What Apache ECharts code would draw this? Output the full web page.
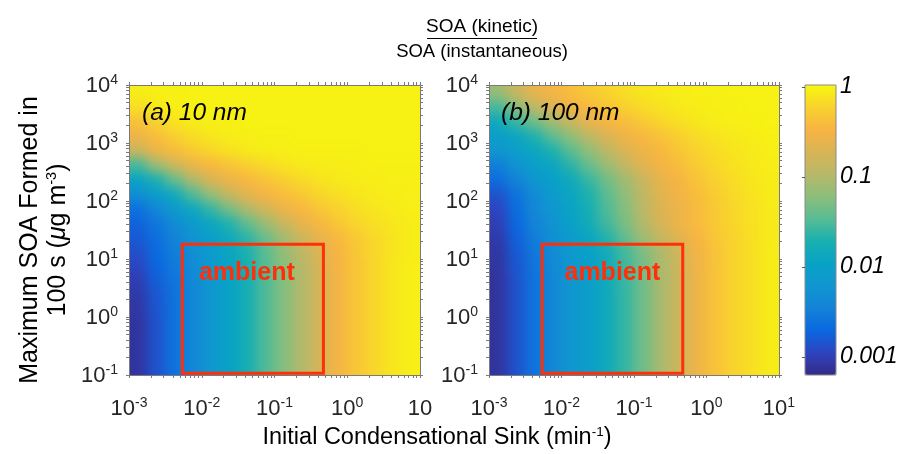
<!DOCTYPE html>
<html>
<head>
<meta charset="utf-8">
<script src="https://cdn.jsdelivr.net/npm/echarts@6/dist/echarts.min.js"></script>
<style>
html,body{margin:0;padding:0;background:#fff}
#wrap{position:relative;width:901px;height:454px;overflow:hidden}
#heat{position:absolute;left:0;top:0;width:901px;height:454px;filter:blur(6px);
  clip-path:path('M129 85H420V375H129Z M489 85H779V375H489Z')}
#main{position:absolute;left:0;top:0;width:901px;height:454px}
</style>
</head>
<body>
<div id="wrap"><div id="heat"></div><div id="main"></div></div>
<script>
// ---- data (log10 units) ----
// cell centres: log10 of initial condensational sink (min^-1)
const xCenters = [-2.875,-2.625,-2.375,-2.125,-1.875,-1.625,-1.375,-1.125,-0.875,-0.625,-0.375,-0.125,0.125,0.375,0.625,0.875];
// cell centres: log10 of maximum SOA formed in 100 s (ug m^-3)
const yCenters = [-0.875,-0.625,-0.375,-0.125,0.125,0.375,0.625,0.875,1.125,1.375,1.625,1.875,2.125,2.375,2.625,2.875,3.125,3.375,3.625,3.875];
// log10( SOA(kinetic) / SOA(instantaneous) ), rows bottom -> top, panel (a) 10 nm
const logRatio10nm = [
  [-3.1,-2.85,-2.6,-2.4,-2.2,-1.97,-1.75,-1.5,-1.25,-1.0,-0.75,-0.5,-0.33,-0.2,-0.1,-0.04],
  [-3.1,-2.85,-2.6,-2.4,-2.2,-1.97,-1.75,-1.5,-1.25,-1.0,-0.75,-0.5,-0.33,-0.2,-0.1,-0.04],
  [-3.1,-2.85,-2.6,-2.4,-2.2,-1.97,-1.75,-1.5,-1.25,-1.0,-0.75,-0.5,-0.33,-0.2,-0.1,-0.04],
  [-3.1,-2.85,-2.6,-2.4,-2.2,-1.97,-1.75,-1.5,-1.25,-1.0,-0.75,-0.5,-0.33,-0.2,-0.1,-0.04],
  [-3.08,-2.84,-2.6,-2.4,-2.2,-1.97,-1.75,-1.5,-1.25,-1.0,-0.75,-0.5,-0.33,-0.2,-0.1,-0.04],
  [-3.06,-2.82,-2.6,-2.4,-2.2,-1.97,-1.75,-1.5,-1.25,-1.0,-0.75,-0.5,-0.33,-0.2,-0.1,-0.04],
  [-3.02,-2.78,-2.58,-2.38,-2.18,-1.96,-1.75,-1.5,-1.25,-1.0,-0.75,-0.5,-0.33,-0.2,-0.1,-0.04],
  [-2.95,-2.72,-2.53,-2.35,-2.15,-1.95,-1.73,-1.48,-1.23,-0.98,-0.73,-0.5,-0.33,-0.2,-0.1,-0.04],
  [-2.88,-2.68,-2.5,-2.3,-2.1,-1.92,-1.7,-1.45,-1.18,-0.92,-0.68,-0.48,-0.32,-0.2,-0.11,-0.05],
  [-2.8,-2.64,-2.44,-2.25,-2.05,-1.86,-1.64,-1.38,-1.1,-0.83,-0.6,-0.44,-0.3,-0.19,-0.11,-0.05],
  [-2.74,-2.56,-2.34,-2.12,-1.9,-1.68,-1.42,-1.14,-0.85,-0.6,-0.45,-0.32,-0.21,-0.14,-0.09,-0.05],
  [-2.62,-2.4,-2.12,-1.88,-1.6,-1.32,-1.02,-0.76,-0.56,-0.45,-0.33,-0.23,-0.15,-0.1,-0.07,-0.04],
  [-2.3,-2.08,-1.84,-1.5,-1.16,-0.86,-0.62,-0.5,-0.4,-0.3,-0.2,-0.14,-0.1,-0.07,-0.05,-0.04],
  [-1.95,-1.72,-1.4,-1.02,-0.72,-0.56,-0.45,-0.35,-0.26,-0.18,-0.12,-0.08,-0.06,-0.05,-0.04,-0.03],
  [-1.55,-1.15,-0.82,-0.58,-0.46,-0.35,-0.26,-0.18,-0.12,-0.08,-0.06,-0.05,-0.04,-0.03,-0.03,-0.03],
  [-0.85,-0.56,-0.42,-0.3,-0.2,-0.13,-0.08,-0.05,-0.04,-0.03,-0.03,-0.03,-0.03,-0.02,-0.02,-0.02],
  [-0.55,-0.4,-0.26,-0.16,-0.1,-0.06,-0.04,-0.03,-0.03,-0.02,-0.02,-0.02,-0.02,-0.02,-0.02,-0.02],
  [-0.38,-0.24,-0.12,-0.06,-0.04,-0.03,-0.02,-0.02,-0.02,-0.02,-0.02,-0.02,-0.02,-0.02,-0.02,-0.02],
  [-0.15,-0.08,-0.04,-0.03,-0.02,-0.02,-0.02,-0.02,-0.02,-0.02,-0.02,-0.02,-0.02,-0.02,-0.02,-0.02],
  [-0.06,-0.04,-0.03,-0.02,-0.02,-0.02,-0.02,-0.02,-0.02,-0.02,-0.02,-0.02,-0.02,-0.02,-0.02,-0.02]
];
// panel (b) 100 nm
const logRatio100nm = [
  [-3.1,-2.85,-2.6,-2.4,-2.2,-2.05,-1.85,-1.6,-1.35,-1.05,-0.8,-0.55,-0.35,-0.22,-0.14,-0.06],
  [-3.1,-2.85,-2.6,-2.4,-2.2,-2.05,-1.85,-1.6,-1.35,-1.05,-0.8,-0.55,-0.35,-0.22,-0.14,-0.06],
  [-3.1,-2.85,-2.6,-2.4,-2.2,-2.05,-1.85,-1.6,-1.35,-1.05,-0.8,-0.55,-0.35,-0.22,-0.14,-0.06],
  [-3.1,-2.85,-2.6,-2.4,-2.2,-2.05,-1.85,-1.6,-1.35,-1.05,-0.8,-0.55,-0.35,-0.22,-0.14,-0.06],
  [-3.1,-2.85,-2.6,-2.4,-2.2,-2.05,-1.85,-1.6,-1.35,-1.05,-0.8,-0.55,-0.35,-0.22,-0.14,-0.06],
  [-3.1,-2.85,-2.6,-2.4,-2.2,-2.05,-1.85,-1.6,-1.35,-1.05,-0.8,-0.55,-0.35,-0.22,-0.14,-0.06],
  [-3.1,-2.85,-2.6,-2.4,-2.2,-2.04,-1.84,-1.59,-1.34,-1.05,-0.8,-0.55,-0.35,-0.22,-0.14,-0.06],
  [-3.09,-2.83,-2.58,-2.38,-2.18,-2.02,-1.82,-1.57,-1.32,-1.04,-0.8,-0.54,-0.35,-0.22,-0.14,-0.06],
  [-3.08,-2.8,-2.55,-2.35,-2.15,-2.0,-1.8,-1.55,-1.3,-1.02,-0.78,-0.52,-0.35,-0.22,-0.14,-0.06],
  [-3.05,-2.75,-2.5,-2.3,-2.1,-1.92,-1.68,-1.42,-1.12,-0.88,-0.65,-0.48,-0.33,-0.22,-0.14,-0.07],
  [-3.0,-2.7,-2.45,-2.25,-2.0,-1.8,-1.55,-1.3,-1.0,-0.72,-0.55,-0.42,-0.3,-0.2,-0.13,-0.07],
  [-2.95,-2.65,-2.4,-2.2,-1.95,-1.75,-1.5,-1.25,-0.95,-0.7,-0.55,-0.42,-0.3,-0.2,-0.13,-0.07],
  [-2.85,-2.6,-2.35,-2.1,-1.9,-1.7,-1.45,-1.2,-0.9,-0.65,-0.52,-0.4,-0.28,-0.18,-0.12,-0.06],
  [-2.65,-2.45,-2.2,-2.0,-1.85,-1.6,-1.35,-1.1,-0.85,-0.6,-0.48,-0.35,-0.24,-0.16,-0.1,-0.06],
  [-2.5,-2.25,-2.05,-1.9,-1.65,-1.4,-1.15,-0.9,-0.65,-0.5,-0.4,-0.28,-0.19,-0.13,-0.08,-0.05],
  [-2.2,-2.05,-1.9,-1.7,-1.45,-1.2,-0.95,-0.7,-0.55,-0.45,-0.33,-0.23,-0.16,-0.11,-0.07,-0.04],
  [-2.05,-1.9,-1.7,-1.45,-1.2,-0.95,-0.7,-0.55,-0.45,-0.35,-0.25,-0.17,-0.12,-0.08,-0.05,-0.03],
  [-1.85,-1.6,-1.35,-1.1,-0.85,-0.6,-0.5,-0.4,-0.3,-0.2,-0.14,-0.09,-0.06,-0.04,-0.03,-0.02],
  [-1.55,-1.25,-0.95,-0.7,-0.55,-0.45,-0.35,-0.25,-0.17,-0.12,-0.08,-0.05,-0.04,-0.03,-0.02,-0.02],
  [-1.15,-0.85,-0.6,-0.5,-0.4,-0.3,-0.22,-0.15,-0.1,-0.07,-0.05,-0.04,-0.03,-0.02,-0.02,-0.02]
];
// "ambient" box, in physical units
const ambientSink = [0.0054, 0.47];      // min^-1
const ambientSOA = [0.107, 18];          // ug m^-3
// tick exponents and colorbar ticks
const xTickExponents = [-3, -2, -1, 0, 1];
const yTickExponents = [-1, 0, 1, 2, 3, 4];
const colorbarTicks = [0.001, 0.01, 0.1, 1];
const colorbarLabels = ['0.001', '0.01', '0.1', '1'];
const panelLabels = ['(a) 10 nm', '(b) 100 nm'];

// ---- styling ----
const FONT = "'Liberation Sans', Arial, Helvetica, sans-serif";
const AXIS_COLOR = '#7a7a7a';
const LABEL_COLOR = '#262626';
const BOX_RED = '#ff2f0a';
const PARULA = ['#352a87','#2d44c0','#0a68e0','#1482d8','#1096d0','#08a2c6','#18b0b0',
                '#58bc94','#8cbe7a','#b8b868','#d8b456','#f8b442','#f8d22e','#f7f80e'];
const CB_MIN = -3.2, CB_MAX = 0.02;
const X_MIN = -3, X_MAX = 1, Y_MIN = -1, Y_MAX = 4;
const HALF_X = 0.125, HALF_Y = 0.125, EDGE_EXT = 22;
const GRIDS = [
  {left: 129, top: 85, width: 291, height: 290},
  {left: 489, top: 85, width: 290, height: 290}
];

function decadeTicks(lo, hi) {
  const out = [];
  for (let d = lo; d <= hi; d++) {
    out.push(d);
    if (d < hi) for (let k = 2; k <= 9; k++) out.push(d + Math.log10(k));
  }
  return out;
}
const xTicksAll = decadeTicks(X_MIN, X_MAX);
const yTicksAll = decadeTicks(Y_MIN, Y_MAX);

const tickRich = {
  b: {fontSize: 22, fontFamily: FONT, color: LABEL_COLOR, lineHeight: 24, verticalAlign: 'bottom'},
  s: {fontSize: 14, fontFamily: FONT, color: LABEL_COLOR, lineHeight: 14, verticalAlign: 'top'}
};
function powLabel(v) { return '{b|10}{s|' + Math.round(v) + '}'; }

function buildCells(mat) {
  const out = [];
  for (let r = 0; r < yCenters.length; r++)
    for (let c = 0; c < xCenters.length; c++)
      out.push([xCenters[c], yCenters[r], mat[r][c]]);
  return out;
}

// cells; edge cells are stretched outwards so the soft-focus layer has no faded rim
function renderCell(params, api) {
  const x = api.value(0), y = api.value(1);
  const p0 = api.coord([x - HALF_X, y + HALF_Y]);
  const p1 = api.coord([x + HALF_X, y - HALF_Y]);
  let x0 = p0[0], y0 = p0[1], x1 = p1[0] + 0.7, y1 = p1[1] + 0.7;
  if (x - HALF_X <= X_MIN + 1e-9) x0 -= EDGE_EXT;
  if (x + HALF_X >= X_MAX - 1e-9) x1 += EDGE_EXT;
  if (y + HALF_Y >= Y_MAX - 1e-9) y0 -= EDGE_EXT;
  if (y - HALF_Y <= Y_MIN + 1e-9) y1 += EDGE_EXT;
  return {type: 'rect', shape: {x: x0, y: y0, width: x1 - x0, height: y1 - y0},
          style: {fill: api.visual('color')}};
}

function makeBoxRender(dx) {
  return function (params, api) {
    const p0 = api.coord([api.value(0), api.value(3)]);
    const p1 = api.coord([api.value(2), api.value(1)]);
    return {type: 'group', children: [
      {type: 'rect', shape: {x: p0[0], y: p0[1], width: p1[0] - p0[0], height: p1[1] - p0[1]},
       style: {fill: 'none', stroke: BOX_RED, lineWidth: 3}},
      {type: 'text', x: (p0[0] + p1[0]) / 2 + dx, y: p0[1] + 29,
       style: {text: 'ambient', fontFamily: FONT, fontSize: 25, fontWeight: 'bold',
               fill: BOX_RED, align: 'center', verticalAlign: 'middle'}}
    ]};
  };
}
const boxData = [[Math.log10(ambientSink[0]), Math.log10(ambientSOA[0]),
                  Math.log10(ambientSink[1]), Math.log10(ambientSOA[1])]];

function xAxes(grid, panel) {
  const common = {type: 'value', gridIndex: grid, min: X_MIN, max: X_MAX, z: 5,
    axisLine: {show: true, onZero: false, lineStyle: {color: AXIS_COLOR, width: 1}},
    splitLine: {show: false}};
  return [
    Object.assign({}, common, {position: 'bottom',
      axisTick: {show: true, inside: false, length: 3, customValues: xTicksAll, lineStyle: {color: AXIS_COLOR}},
      axisLabel: {show: true, margin: 21, customValues: xTickExponents, rich: tickRich,
        formatter: v => (panel === 0 && Math.round(v) === 1) ? '{b|10}' : powLabel(v)}}),
    Object.assign({}, common, {position: 'top',
      axisTick: {show: true, inside: false, length: 3, customValues: xTicksAll, lineStyle: {color: AXIS_COLOR}},
      axisLabel: {show: false}})
  ];
}
function yAxes(grid) {
  const common = {type: 'value', gridIndex: grid, min: Y_MIN, max: Y_MAX, z: 5,
    axisLine: {show: true, onZero: false, lineStyle: {color: AXIS_COLOR, width: 1}},
    splitLine: {show: false}};
  return [
    Object.assign({}, common, {position: 'left',
      axisTick: {show: true, inside: false, length: 3, customValues: yTicksAll, lineStyle: {color: AXIS_COLOR}},
      axisLabel: {show: true, margin: 11, customValues: yTickExponents, rich: tickRich,
        formatter: v => powLabel(v)}}),
    Object.assign({}, common, {position: 'right',
      axisTick: {show: true, inside: false, length: 3, customValues: yTicksAll, lineStyle: {color: AXIS_COLOR}},
      axisLabel: {show: false}})
  ];
}

const visualBase = {type: 'continuous', min: CB_MIN, max: CB_MAX, dimension: 2,
  inRange: {color: PARULA}};

// ---- layer 1: the two colour fields (soft-focused by CSS, clipped to the plot boxes) ----
const heat = echarts.init(document.getElementById('heat'), null, {renderer: 'canvas'});
heat.setOption({
  animation: false,
  grid: GRIDS.map(g => Object.assign({}, g)),
  xAxis: [0, 1].map(i => ({type: 'value', gridIndex: i, min: X_MIN, max: X_MAX, show: false})),
  yAxis: [0, 1].map(i => ({type: 'value', gridIndex: i, min: Y_MIN, max: Y_MAX, show: false})),
  visualMap: Object.assign({}, visualBase, {show: false, seriesIndex: [0, 1]}),
  series: [
    {type: 'custom', name: '10 nm', xAxisIndex: 0, yAxisIndex: 0, clip: false, silent: true,
     renderItem: renderCell, encode: {x: 0, y: 1}, data: buildCells(logRatio10nm)},
    {type: 'custom', name: '100 nm', xAxisIndex: 1, yAxisIndex: 1, clip: false, silent: true,
     renderItem: renderCell, encode: {x: 0, y: 1}, data: buildCells(logRatio100nm)}
  ]
});

// ---- layer 2: axes, annotations, colour bar, titles ----
const chart = echarts.init(document.getElementById('main'), null, {renderer: 'canvas'});
chart.setOption({
  animation: false,
  backgroundColor: 'transparent',
  grid: [
    Object.assign({}, GRIDS[0]),
    Object.assign({}, GRIDS[1]),
    {left: 805, top: 85, width: 31, height: 290, show: true, z: 10,
     borderColor: '#8a8a8a', borderWidth: 1, backgroundColor: 'transparent'}
  ],
  xAxis: [].concat(xAxes(0, 0), xAxes(1, 1),
    [{type: 'value', gridIndex: 2, min: 0, max: 1, show: false}]),
  yAxis: [].concat(yAxes(0), yAxes(1), [{
    type: 'value', gridIndex: 2, min: CB_MIN, max: CB_MAX, position: 'right', z: 11,
    axisLine: {show: false}, splitLine: {show: false},
    axisTick: {show: true, inside: true, length: 3, customValues: colorbarTicks.map(Math.log10),
               lineStyle: {color: '#555'}},
    axisLabel: {show: true, margin: 4, customValues: colorbarTicks.map(Math.log10),
      fontFamily: FONT, fontSize: 23, fontStyle: 'italic', color: '#000',
      formatter: v => colorbarLabels[colorbarTicks.findIndex(t => Math.abs(Math.log10(t) - v) < 1e-6)]}
  }]),
  visualMap: Object.assign({}, visualBase, {
    seriesIndex: [0, 1], orient: 'vertical', left: 805, top: 85, itemWidth: 31, itemHeight: 290,
    padding: 0, calculable: false, hoverLink: false, text: null, showLabel: false}),
  series: [
    {type: 'custom', name: 'ambient a', xAxisIndex: 0, yAxisIndex: 0, clip: false, z: 3, silent: true,
     renderItem: makeBoxRender(-6), encode: {x: [0, 2], y: [1, 3]}, data: boxData},
    {type: 'custom', name: 'ambient b', xAxisIndex: 2, yAxisIndex: 2, clip: false, z: 3, silent: true,
     renderItem: makeBoxRender(0), encode: {x: [0, 2], y: [1, 3]}, data: boxData}
  ],
  graphic: [
    {type: 'text', x: 482, y: 27, z: 20, style: {text: 'SOA (kinetic)', fontFamily: FONT, fontSize: 19,
      fill: '#000', align: 'center', verticalAlign: 'middle'}},
    {type: 'line', z: 20, shape: {x1: 427, y1: 38.5, x2: 537, y2: 38.5}, style: {stroke: '#000', lineWidth: 1}},
    {type: 'text', x: 482, y: 52, z: 20, style: {text: 'SOA (instantaneous)', fontFamily: FONT, fontSize: 18.5,
      fill: '#000', align: 'center', verticalAlign: 'middle'}},
    {type: 'text', x: 142, y: 113, z: 20, style: {text: panelLabels[0], fontFamily: FONT, fontSize: 24.5,
      fontStyle: 'italic', fill: '#000', align: 'left', verticalAlign: 'middle'}},
    {type: 'text', x: 501, y: 113, z: 20, style: {text: panelLabels[1], fontFamily: FONT, fontSize: 24.5,
      fontStyle: 'italic', fill: '#000', align: 'left', verticalAlign: 'middle'}},
    {type: 'text', x: 437, y: 438, z: 20, style: {
      text: 'Initial Condensational Sink (min{s|-1})', fontFamily: FONT, fontSize: 23.5, fill: '#000',
      align: 'center', verticalAlign: 'middle', lineHeight: 26,
      rich: {s: {fontFamily: FONT, fontSize: 13.5, fill: '#000', verticalAlign: 'top', lineHeight: 16}}}},
    {type: 'text', x: 44, y: 240, rotation: Math.PI / 2, z: 20, style: {
      text: 'Maximum SOA Formed in\n100 s ({i|μ}g m{s|-3})', fontFamily: FONT, fontSize: 25, fill: '#000',
      align: 'center', verticalAlign: 'middle', lineHeight: 28,
      rich: {i: {fontFamily: FONT, fontSize: 25, fontStyle: 'italic', fill: '#000', lineHeight: 28},
             s: {fontFamily: FONT, fontSize: 14.5, fill: '#000', verticalAlign: 'top', lineHeight: 16}}}}
  ]
});
</script>
</body>
</html>
